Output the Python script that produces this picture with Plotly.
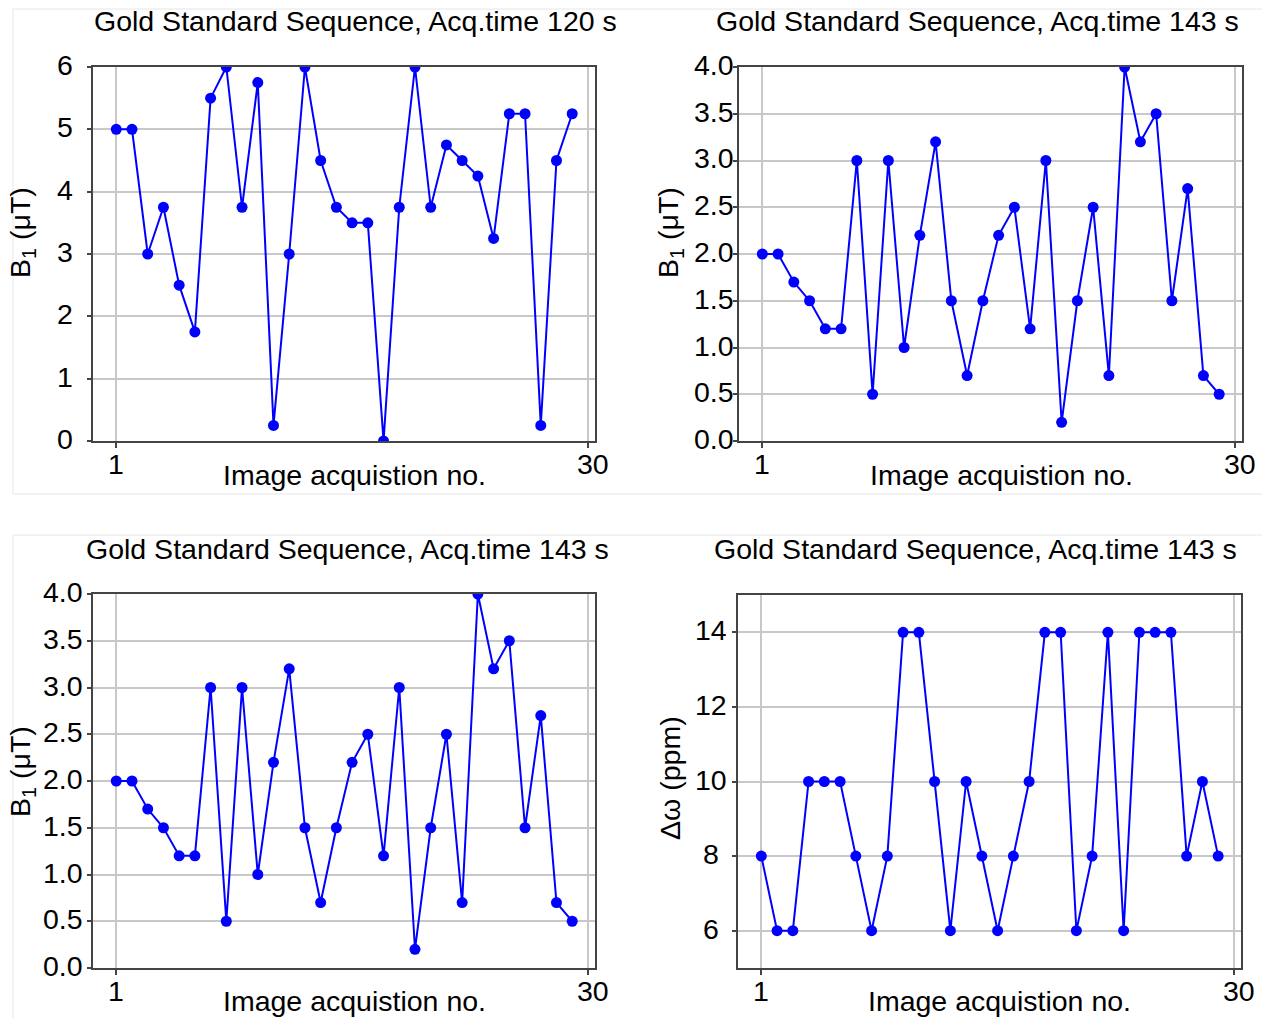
import plotly.graph_objects as go

# Acquisition index and measured saturation parameters for each run
acq_no = list(range(1, 31))

b1_acq120 = [5, 5, 3, 3.75, 2.5, 1.75, 5.5, 6, 3.75, 5.75,
             0.25, 3, 6, 4.5, 3.75, 3.5, 3.5, 0, 3.75, 6,
             3.75, 4.75, 4.5, 4.25, 3.25, 5.25, 5.25, 0.25, 4.5, 5.25]

b1_acq143 = [2.0, 2.0, 1.7, 1.5, 1.2, 1.2, 3.0, 0.5, 3.0, 1.0,
             2.2, 3.2, 1.5, 0.7, 1.5, 2.2, 2.5, 1.2, 3.0, 0.2,
             1.5, 2.5, 0.7, 4.0, 3.2, 3.5, 1.5, 2.7, 0.7, 0.5]

b1_acq143_b = [2.0, 2.0, 1.7, 1.5, 1.2, 1.2, 3.0, 0.5, 3.0, 1.0,
               2.2, 3.2, 1.5, 0.7, 1.5, 2.2, 2.5, 1.2, 3.0, 0.2,
               1.5, 2.5, 0.7, 4.0, 3.2, 3.5, 1.5, 2.7, 0.7, 0.5]

dw_acq143 = [8, 6, 6, 10, 10, 10, 8, 6, 8, 14,
             14, 10, 6, 10, 8, 6, 8, 10, 14, 14,
             6, 8, 14, 6, 14, 14, 14, 8, 10, 8]

panel_titles = ["Gold Standard Sequence, Acq.time 120 s",
                "Gold Standard Sequence, Acq.time 143 s",
                "Gold Standard Sequence, Acq.time 143 s",
                "Gold Standard Sequence, Acq.time 143 s"]
y_titles = ["B<sub>1</sub> (μT)", "B<sub>1</sub> (μT)",
            "B<sub>1</sub> (μT)", "Δω (ppm)"]
x_title = "Image acquistion no."
x_tick_vals = [1, 31]
x_tick_text = ["1", "30"]

b1_ticks_6 = [0, 1, 2, 3, 4, 5, 6]
b1_ticks_4 = [0.0, 0.5, 1.0, 1.5, 2.0, 2.5, 3.0, 3.5, 4.0]
dw_ticks = [6, 8, 10, 12, 14]

W, H = 1267, 1018
FONT = "Arial, Liberation Sans, sans-serif"
FS = 28.5
BLUE = "#0000ff"
GRID = "#c8c8c8"
AXIS = "#444444"


def px_x(x):
    return x / W


def px_y(y):
    return 1 - y / H


# Plot-area boxes in pixels: (left, right, top, bottom)
boxes = [(93, 595, 67, 441), (739, 1242, 67, 441),
         (93, 595, 594, 968), (738, 1241, 595, 968)]
series = [b1_acq120, b1_acq143, b1_acq143_b, dw_acq143]
y_ranges = [[0, 6], [0, 4], [0, 4], [5, 15]]
y_ticks = [b1_ticks_6, b1_ticks_4, b1_ticks_4, dw_ticks]
y_fmt = ["{:.0f}", "{:.1f}", "{:.1f}", "{:.0f}"]

# Text placement (pixel centres)
title_pos = [(355, 21), (977, 21), (347, 549), (975, 549)]
ytitle_pos = [(22, 233), (670, 233), (22, 772), (670, 778)]
xtitle_pos = [(354, 475), (1001, 475), (354, 1001), (999, 1001)]
ylabel_cx = [65, 714, 63, 711]
xlabel_cy = [464, 464, 991, 991]

fig = go.Figure()
layout = dict(
    width=W, height=H,
    margin=dict(l=0, r=0, t=0, b=0, pad=0, autoexpand=False),
    paper_bgcolor="white", plot_bgcolor="white",
    showlegend=False,
    font=dict(family=FONT, size=FS, color="black"),
)

annotations = []
for i, (vals, box) in enumerate(zip(series, boxes)):
    n = "" if i == 0 else str(i + 1)
    fig.add_trace(go.Scatter(
        x=acq_no, y=vals, mode="lines+markers",
        line=dict(color=BLUE, width=2),
        marker=dict(color=BLUE, size=11),
        xaxis="x" + n, yaxis="y" + n,
    ))
    l, r, t, b = box
    layout["xaxis" + n] = dict(
        domain=[px_x(l), px_x(r)], anchor="y" + n, automargin=False,
        range=[-0.48, 31.45], tickmode="array", tickvals=x_tick_vals,
        showticklabels=False,
        showgrid=True, gridcolor=GRID, gridwidth=1.5,
        showline=True, linecolor=AXIS, linewidth=1.5, mirror=True,
        ticks="outside", ticklen=5, tickcolor=AXIS, tickwidth=1.5,
        zeroline=False,
    )
    layout["yaxis" + n] = dict(
        domain=[px_y(b), px_y(t)], anchor="x" + n, automargin=False,
        range=y_ranges[i], tickmode="array", tickvals=y_ticks[i],
        showticklabels=False,
        showgrid=True, gridcolor=GRID, gridwidth=1.5,
        showline=True, linecolor=AXIS, linewidth=1.5, mirror=True,
        ticks="outside", ticklen=4, tickcolor=AXIS, tickwidth=1.5,
        zeroline=False,
    )

    # Centred y tick labels
    for v in y_ticks[i]:
        annotations.append(dict(
            text=y_fmt[i].format(v), x=px_x(ylabel_cx[i]), y=v,
            xref="paper", yref="y" + n, xanchor="center", yanchor="middle",
            yshift=2, showarrow=False, font=dict(size=FS)))
    # x tick labels
    for v, txt in zip(x_tick_vals, x_tick_text):
        annotations.append(dict(
            text=txt, x=v, y=px_y(xlabel_cy[i]),
            xref="x" + n, yref="paper", xanchor="center", yanchor="middle",
            xshift=0 if v == 1 else 5, showarrow=False, font=dict(size=FS)))

    tx, ty = title_pos[i]
    annotations.append(dict(
        text=panel_titles[i], x=px_x(tx), y=px_y(ty),
        xref="paper", yref="paper", xanchor="center", yanchor="middle",
        showarrow=False, font=dict(size=FS)))
    yx, yy = ytitle_pos[i]
    annotations.append(dict(
        text=y_titles[i], x=px_x(yx), y=px_y(yy), textangle=-90,
        xref="paper", yref="paper", xanchor="center", yanchor="middle",
        showarrow=False, font=dict(size=FS)))
    xx, xy = xtitle_pos[i]
    annotations.append(dict(
        text=x_title, x=px_x(xx), y=px_y(xy),
        xref="paper", yref="paper", xanchor="center", yanchor="middle",
        showarrow=False, font=dict(size=FS)))
layout["annotations"] = annotations

# Faint frames around the two rows of panels
frame = dict(type="line", xref="paper", yref="paper",
             line=dict(color="#e6e6e6", width=1))
shapes = []
for top, bottom in [(9, 494), (535, 1018)]:
    shapes.append(dict(frame, x0=px_x(13), x1=px_x(1262),
                       y0=px_y(top), y1=px_y(top)))
    shapes.append(dict(frame, x0=px_x(13), x1=px_x(13),
                       y0=px_y(top), y1=px_y(bottom)))
shapes.append(dict(frame, x0=px_x(13), x1=px_x(1262),
                   y0=px_y(494), y1=px_y(494)))
layout["shapes"] = shapes

fig.update_layout(**layout)
fig.write_html("out.html")
